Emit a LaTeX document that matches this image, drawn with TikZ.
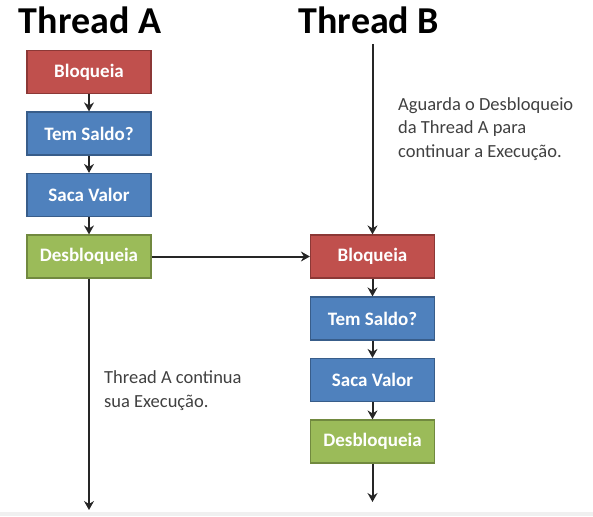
\documentclass[tikz,border=0pt]{standalone}
\usepackage{fontspec}
\setmainfont{Carlito}
\setsansfont{Carlito}
\usetikzlibrary{positioning,shapes,arrows,arrows.meta}
\definecolor{lockred}{RGB}{192,80,77}
\definecolor{lockredline}{RGB}{140,56,54}
\definecolor{stepblue}{RGB}{79,129,189}
\definecolor{stepblueline}{RGB}{56,93,138}
\definecolor{freegreen}{RGB}{155,187,89}
\definecolor{freegreenline}{RGB}{113,137,63}
\definecolor{notegray}{RGB}{64,64,64}
\tikzset{
  box/.style={rectangle, minimum width=124pt, minimum height=43pt, inner sep=0pt,
    line width=1.2pt, text=white, font=\sffamily\bfseries\fontsize{19}{22}\selectfont},
  lockbox/.style={box, fill=lockred, draw=lockredline},
  stepbox/.style={box, fill=stepblue, draw=stepblueline},
  freebox/.style={box, fill=freegreen, draw=freegreenline},
  flow/.style={-{Stealth[length=9pt,width=10pt,inset=3pt]}, line width=2pt, draw=black!85},
  title/.style={font=\sffamily\bfseries\fontsize{38}{44}\selectfont},
  note/.style={text=notegray, align=left, inner sep=0pt, font=\sffamily\fontsize{18.5}{23.5}\selectfont}
}
\begin{document}
\begin{tikzpicture}[x=1pt, y=-1pt, font=\sffamily]
  \useasboundingbox (0,0) rectangle (593,516);
  \fill[gray!12] (0,512) rectangle (593,516);

  \node[title] (titleA) at (90,20) {Thread A};
  \node[title] (titleB) at (369,20) {Thread B};

  \node[lockbox] (lockA) at (89,72) {Bloqueia};
  \node[stepbox] (saldoA) at (89,133.5) {Tem Saldo?};
  \node[stepbox] (sacaA) at (89,195) {Saca Valor};
  \node[freebox] (freeA) at (89,256.5) {Desbloqueia};

  \node[lockbox] (lockB) at (372.5,256.5) {Bloqueia};
  \node[stepbox] (saldoB) at (372.5,318.5) {Tem Saldo?};
  \node[stepbox] (sacaB) at (372.5,380) {Saca Valor};
  \node[freebox] (freeB) at (372.5,441.5) {Desbloqueia};

  \coordinate (startB) at (372.5,44);
  \coordinate (endA) at (89,510);
  \coordinate (endB) at (372.5,502);

  \draw[flow] (lockA) -- (saldoA);
  \draw[flow] (saldoA) -- (sacaA);
  \draw[flow] (sacaA) -- (freeA);
  \draw[flow] (freeA) -- (lockB);
  \draw[flow] (freeA) -- (endA);

  \draw[flow] (startB) -- (lockB);
  \draw[flow] (lockB) -- (saldoB);
  \draw[flow] (saldoB) -- (sacaB);
  \draw[flow] (sacaB) -- (freeB);
  \draw[flow] (freeB) -- (endB);

  \node[note, anchor=base west] (waitB) at (398,157) {Aguarda o Desbloqueio\\da Thread A para\\continuar a Execução.};
  \node[note, anchor=base west] (goA) at (104,407) {Thread A continua\\sua Execução.};
\end{tikzpicture}
\end{document}
